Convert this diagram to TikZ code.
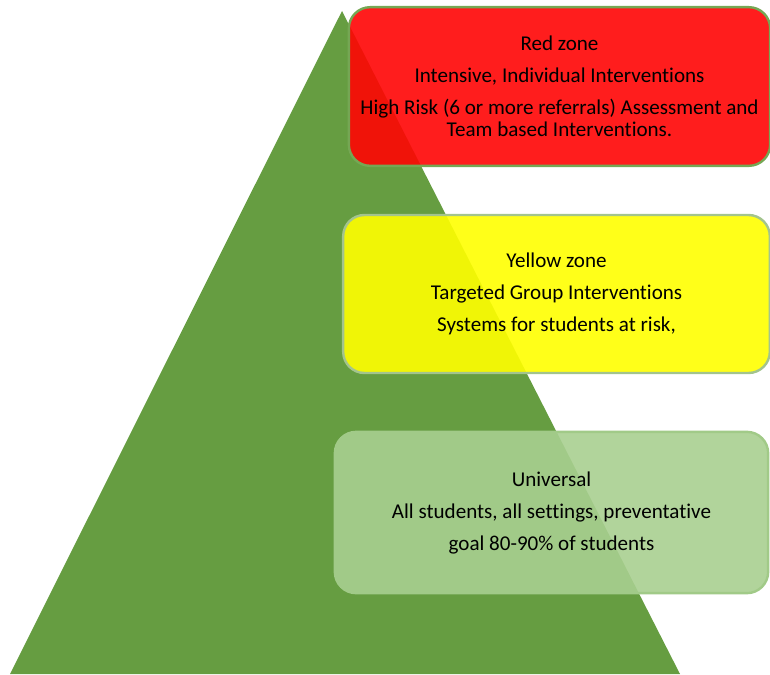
\documentclass[tikz,border=0pt]{standalone}
\usepackage{fontspec}
\setmainfont{Carlito}[Ligatures=NoCommon]
\usepackage{tikz}

\definecolor{pyramid}{RGB}{102,157,65}
\definecolor{redzone}{RGB}{255,4,4}
\definecolor{yellowzone}{RGB}{255,255,0}
\definecolor{greenzone}{RGB}{168,207,144}

\begin{document}
\begin{tikzpicture}[x=0.75pt,y=-0.75pt,
        zone/.style={rounded corners=16pt,align=center,fill opacity=0.9,text opacity=1,
            line width=1.8pt,font=\fontsize{15.8}{16.5}\selectfont}]

    \useasboundingbox (0,0) rectangle (770,674);

    % the pyramid
    \fill[pyramid] (342,11) -- (680,674) -- (10,674) -- cycle;

    \node[zone, fill=redzone, draw=pyramid!90!white, minimum width=316pt, minimum height=119pt] (red) at (559.5,86.5)
        {Red zone\\[7.5pt] Intensive, Individual Interventions\\[7.5pt] High Risk (6 or more referrals) Assessment and\\ Team based Interventions.};
    \node[zone, fill=yellowzone, draw=pyramid!60!white, minimum width=320pt, minimum height=118.5pt] (yellow) at (556.5,294)
        {Yellow zone\\[7.5pt] Targeted Group Interventions\\[7.5pt] Systems for students at risk,};
    \node[zone, fill=greenzone, draw=greenzone!90!pyramid, minimum width=325pt, minimum height=121pt] (green) at (551.5,512.5)
        {Universal\\[7.5pt] All students, all settings, preventative\\[7.5pt] goal 80-90\% of students};

\end{tikzpicture}
\end{document}
